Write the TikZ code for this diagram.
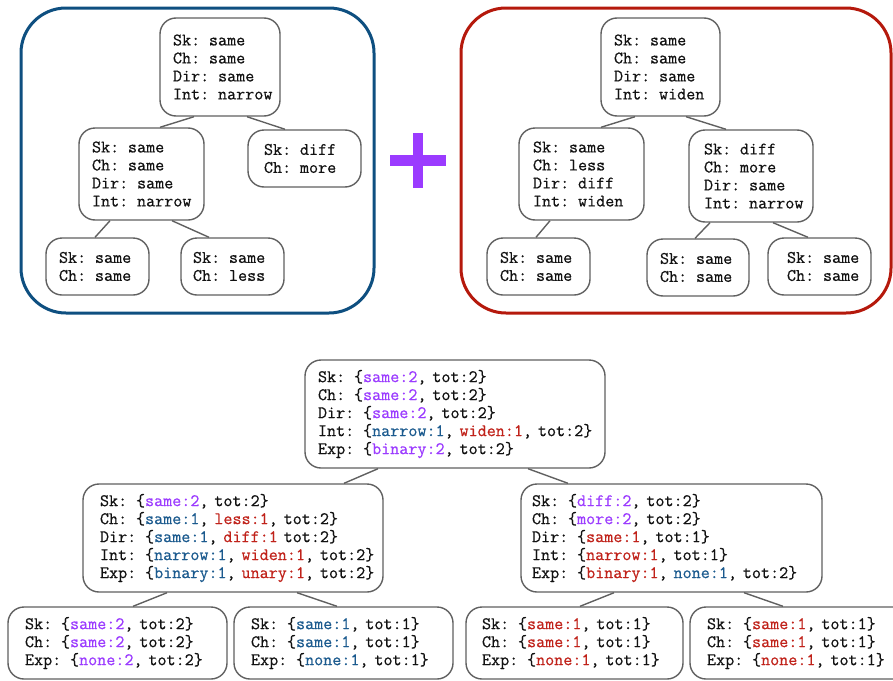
\documentclass[tikz,border=0pt]{standalone}
\usepackage{fontspec}
\setmonofont{Latin Modern Mono}[FakeBold=0.6]
\definecolor{mypurple}{HTML}{9B3BFF}
\definecolor{myblue}{HTML}{1B5A8E}
\definecolor{myred}{HTML}{C0221A}
\definecolor{frameblue}{HTML}{0E4F80}
\definecolor{framered}{HTML}{B5190C}
\definecolor{boxgray}{HTML}{606060}
\definecolor{txt}{HTML}{111111}
\newcommand{\cpur}[1]{\textcolor{mypurple}{#1}}
\newcommand{\cblu}[1]{\textcolor{myblue}{#1}}
\newcommand{\cred}[1]{\textcolor{myred}{#1}}
\tikzset{
  box/.style={draw=boxgray, line width=1.4pt, rounded corners=16pt, align=left,
    text=txt, font=\ttfamily\fontsize{17.6}{18}\selectfont, inner ysep=0pt,
    execute at begin node={\rightskip=0pt plus 1fil minus 300pt}},
  edge/.style={draw=boxgray, line width=1.4pt},
  frame/.style={line width=3pt, rounded corners=45pt}
}
\begin{document}
\begin{tikzpicture}[x=1pt,y=-1pt]
\useasboundingbox (0,0) rectangle (893,680);
\clip (0,0) rectangle (893,680);
% first example
\draw[frame, draw=frameblue] (21,8) rectangle (374,313);
\node[box, text width=94pt, inner xsep=13pt, minimum height=98pt] (lt) at (220,67)
  {Sk: same\\Ch: same\\Dir: same\\Int: narrow};
\node[box, text width=99pt, inner xsep=13pt, minimum height=92pt] (lm) at (141.5,174)
  {Sk: same\\Ch: same\\Dir: same\\Int: narrow};
\node[box, text width=81pt, inner xsep=16pt, minimum height=57pt] (lr) at (304.5,158.5)
  {Sk: diff\\Ch: more};
\node[box, text width=77pt, inner xsep=13pt, minimum height=57pt] (lbl) at (97.5,266.5)
  {Sk: same\\Ch: same};
\node[box, text width=79pt, inner xsep=12pt, minimum height=57pt] (lbm) at (232.5,266.5)
  {Sk: same\\Ch: less};
\draw[edge] ([xshift=-26pt]lt.south) -- ([xshift=18.5pt]lm.north);
\draw[edge] ([xshift=27pt]lt.south) -- ([xshift=-19.5pt]lr.north);
\draw[edge] ([xshift=-31.5pt]lm.south) -- ([xshift=-2.5pt]lbl.north);
\draw[edge] ([xshift=30.5pt]lm.south) -- ([xshift=-23.5pt]lbm.north);
% plus
\fill[mypurple] (390,155) rectangle (446,166);
\fill[mypurple] (413,133) rectangle (423,188);
% second example
\draw[frame, draw=framered] (461,8) rectangle (891,313);
\node[box, text width=93pt, inner xsep=13pt, minimum height=98pt] (rt) at (660.5,67)
  {Sk: same\\Ch: same\\Dir: same\\Int: widen};
\node[box, text width=97pt, inner xsep=14pt, minimum height=92pt] (rml) at (581.5,174)
  {Sk: same\\Ch: less\\Dir: diff\\Int: widen};
\node[box, text width=94pt, inner xsep=15pt, minimum height=92pt] (rmr) at (751,176)
  {Sk: diff\\Ch: more\\Dir: same\\Int: narrow};
\node[box, text width=77pt, inner xsep=13pt, minimum height=57pt] (rbl) at (538.5,266.5)
  {Sk: same\\Ch: same};
\node[box, text width=76pt, inner xsep=13pt, minimum height=57pt] (rbm) at (698,267.5)
  {Sk: same\\Ch: same};
\node[box, text width=65pt, inner xsep=19pt, minimum height=57pt] (rbr) at (819.5,266.5)
  {Sk: same\\Ch: same};
\draw[edge] ([xshift=-25.5pt]rt.south) -- ([xshift=19.5pt]rml.north);
\draw[edge] ([xshift=25.5pt]rt.south) -- ([xshift=-25pt]rmr.north);
\draw[edge] ([xshift=-31.5pt]rml.south) -- ([xshift=-2.5pt]rbl.north);
\draw[edge] ([xshift=-41pt]rmr.south) -- ([xshift=-3pt]rbm.north);
\draw[edge] ([xshift=22pt]rmr.south) -- ([xshift=-11.5pt]rbr.north);
% merged tree
\node[box, text width=274pt, inner xsep=13pt, minimum height=108pt] (root) at (455,414)
  {Sk: \{\cpur{same:2}, tot:2\}\\
   Ch: \{\cpur{same:2}, tot:2\}\\
   Dir: \{\cpur{same:2}, tot:2\}\\
   Int: \{\cblu{narrow:1}, \cred{widen:1}, tot:2\}\\
   Exp: \{\cpur{binary:2}, tot:2\}};
\node[box, text width=266pt, inner xsep=17pt, minimum height=108pt] (bml) at (233,538)
  {Sk: \{\cpur{same:2}, tot:2\}\\
   Ch: \{\cblu{same:1}, \cred{less:1}, tot:2\}\\
   Dir: \{\cblu{same:1}, \cred{diff:1} tot:2\}\\
   Int: \{\cblu{narrow:1}, \cred{widen:1}, tot:2\}\\
   Exp: \{\cblu{binary:1}, \cred{unary:1}, tot:2\}};
\node[box, text width=279pt, inner xsep=11pt, minimum height=108pt] (bmr) at (671.5,538)
  {Sk: \{\cpur{diff:2}, tot:2\}\\
   Ch: \{\cpur{more:2}, tot:2\}\\
   Dir: \{\cred{same:1}, tot:1\}\\
   Int: \{\cred{narrow:1}, tot:1\}\\
   Exp: \{\cred{binary:1}, \cblu{none:1}, tot:2\}};
\node[box, text width=185pt, inner xsep=17pt, minimum height=72pt] (bb1) at (117.5,643)
  {Sk: \{\cpur{same:2}, tot:2\}\\
   Ch: \{\cpur{same:2}, tot:2\}\\
   Exp: \{\cpur{none:2}, tot:2\}};
\node[box, text width=185pt, inner xsep=17pt, minimum height=72pt] (bb2) at (343.5,643)
  {Sk: \{\cblu{same:1}, tot:1\}\\
   Ch: \{\cblu{same:1}, tot:1\}\\
   Exp: \{\cblu{none:1}, tot:1\}};
\node[box, text width=185pt, inner xsep=16pt, minimum height=72pt] (bb3) at (574.5,643)
  {Sk: \{\cred{same:1}, tot:1\}\\
   Ch: \{\cred{same:1}, tot:1\}\\
   Exp: \{\cred{none:1}, tot:1\}};
\node[box, text width=185pt, inner xsep=17pt, minimum height=72pt] (bb4) at (799.5,643)
  {Sk: \{\cred{same:1}, tot:1\}\\
   Ch: \{\cred{same:1}, tot:1\}\\
   Exp: \{\cred{none:1}, tot:1\}};
\draw[edge] ([xshift=-77pt]root.south) -- ([xshift=111pt]bml.north);
\draw[edge] ([xshift=73pt]root.south) -- ([xshift=-103.5pt]bmr.north);
\draw[edge] ([xshift=-66pt]bml.south) -- ([xshift=15.5pt]bb1.north);
\draw[edge] ([xshift=64pt]bml.south) -- ([xshift=-6.5pt]bb2.north);
\draw[edge] ([xshift=-57.5pt]bmr.south) -- ([xshift=5.5pt]bb3.north);
\draw[edge] ([xshift=72.5pt]bmr.south) -- ([xshift=-16.5pt]bb4.north);
\end{tikzpicture}
\end{document}
